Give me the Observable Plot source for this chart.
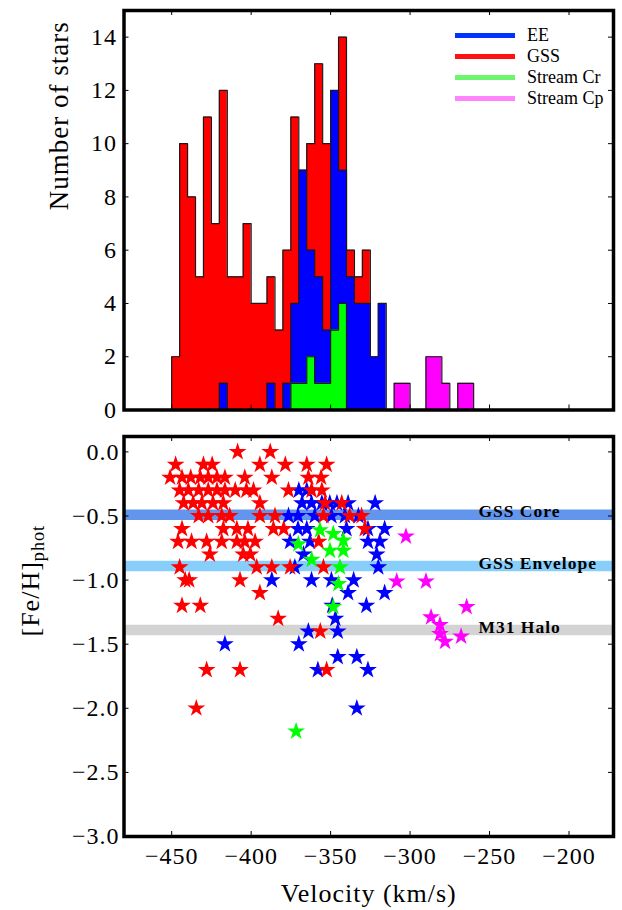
<!DOCTYPE html>
<html>
<head>
<meta charset="utf-8">
<script src="https://cdn.jsdelivr.net/npm/d3@7"></script>
<script src="https://cdn.jsdelivr.net/npm/@observablehq/plot@0.6"></script>
<style>
html, body { margin: 0; padding: 0; background: #fff; }
#chart { width: 622px; }
#chart svg { display: block; }
#chart svg text { letter-spacing: 1px; }
</style>
</head>
<body>
<div id="chart"></div>
<script>
// ---------- Histogram data (5 km/s bins) ----------
const binEdges = [-450,-445,-440,-435,-430,-425,-420,-415,-410,-405,-400,-395,-390,-385,-380,-375,-370,-365,-360,-355,-350,-345,-340,-335,-330,-325,-320,-315,-310,-305,-300,-295,-290,-285,-280,-275,-270,-265,-260];
const countsGSS      = [2,10,8,5,11,7,12,5,5,7,4,4,5,3,6,11,9,10,13,10,8,14,6,5,6,0,0,0,0,0,0,0,0,0,0,0,0,0];
const countsEE       = [0,0,0,0,0,0,1,0,0,0,0,0,1,0,1,4,9,6,5,3,12,9,5,4,4,2,4,0,0,0,0,0,0,0,0,0,0,0];
const countsStreamCr = [0,0,0,0,0,0,0,0,0,0,0,0,0,0,0,1,1,2,1,1,3,4,0,0,0,0,0,0,0,0,0,0,0,0,0,0,0,0];
const countsStreamCp = [0,0,0,0,0,0,0,0,0,0,0,0,0,0,0,0,0,0,0,0,0,0,0,0,0,0,0,0,1,1,0,0,2,2,1,0,1,1];

const histTicks = [0,2,4,6,8,10,12,14];
const velTicks = [-450,-400,-350,-300,-250,-200];
const fehTicks = [0,-0.5,-1,-1.5,-2,-2.5,-3];

// ---------- Scatter data ----------
const eeVel = [-370,-365,-368,-362,-355.5,-350.5,-346,-339,-322,-376.5,-370.5,-360,-349.5,-341,-332.5,-370.5,-365,-340,-326.5,-316,-375.5,-363,-326.5,-319,-367,-321,-372.5,-320,-387,-362,-349.5,-335.5,-339,-316,-349,-327.5,-347,-364,-345.5,-416.5,-370,-345.5,-333.5,-358,-326.5,-333.5];
const eeFeh = [-0.3,-0.3,-0.4,-0.4,-0.4,-0.4,-0.4,-0.4,-0.4,-0.5,-0.5,-0.5,-0.5,-0.5,-0.5,-0.6,-0.6,-0.6,-0.6,-0.6,-0.7,-0.7,-0.7,-0.7,-0.8,-0.8,-0.9,-0.9,-1.0,-1.0,-1.0,-1.0,-1.1,-1.1,-1.2,-1.2,-1.3,-1.4,-1.4,-1.5,-1.5,-1.6,-1.6,-1.7,-1.7,-2.0];

const gssVel = [-408.5,-388,
  -447.5,-430,-424.5,-394.5,-378.5,-365,-352.5,
  -451,-443.5,-438,-432,-427,-421.5,-416.5,-404,-387,-364,-356,
  -445,-439.5,-433,-427,-421.5,-416.5,-410,-403,-398.5,-376.5,-362,-355.5,
  -442.5,-436.5,-431,-424,-417.5,-394.5,-353.5,-343,
  -433,-427,-418.5,-413.5,-394.5,-385,-354.5,-338,-330.5,
  -443.5,-417.5,-409,-402,-386,-379.5,-328.5,
  -446,-437.5,-428,-418.5,-409,-404,-397.5,-357.5,
  -426,-405,-400.5,
  -445,-396.5,-387,-375.5,-354.5,
  -441.5,-439,-407,
  -394.5,
  -443.5,-432,
  -383,
  -356.5,
  -428,-407,-352.5,
  -434.5];
const gssFeh = [0,0,
  -0.1,-0.1,-0.1,-0.1,-0.1,-0.1,-0.1,
  -0.2,-0.2,-0.2,-0.2,-0.2,-0.2,-0.2,-0.2,-0.2,-0.2,-0.2,
  -0.3,-0.3,-0.3,-0.3,-0.3,-0.3,-0.3,-0.3,-0.3,-0.3,-0.3,-0.3,
  -0.4,-0.4,-0.4,-0.4,-0.4,-0.4,-0.4,-0.4,
  -0.5,-0.5,-0.5,-0.5,-0.5,-0.5,-0.5,-0.5,-0.5,
  -0.6,-0.6,-0.6,-0.6,-0.6,-0.6,-0.6,
  -0.7,-0.7,-0.7,-0.7,-0.7,-0.7,-0.7,-0.7,
  -0.8,-0.8,-0.8,
  -0.9,-0.9,-0.9,-0.9,-0.9,
  -1.0,-1.0,-1.0,
  -1.1,
  -1.2,-1.2,
  -1.3,
  -1.4,
  -1.7,-1.7,-1.7,
  -2.0];

const crVel = [-370.3,-361.9,-356.7,-348.3,-342,-350.4,-342,-344.1,-345.1,-348.3,-371.7];
const crFeh = [-0.72,-0.84,-0.61,-0.64,-0.69,-0.77,-0.77,-0.90,-1.03,-1.21,-2.18];

const cpVel = [-302.6,-308.4,-290,-264.4,-286.8,-281.2,-281.2,-278,-267.9];
const cpFeh = [-0.66,-1.01,-1.01,-1.21,-1.29,-1.35,-1.42,-1.48,-1.44];

// ---------- Reference bands ----------
const bandNames = ["GSS Core","GSS Envelope","M31 Halo"];
const bandFeh = [-0.49,-0.89,-1.39];
const bandColors = ["#6495ed","#87cefa","#d3d3d3"];
const bandLabelVel = -257;

// ---------- Legend ----------
const legendNames = ["EE","GSS","Stream Cr","Stream Cp"];
const legendColors = ["#0033ff","#ff1111","#6ef56e","#ff85ff"];

// ---------- Layout ----------
const W = 622;
const xDomain = [-480, -172];
const mLeft = 123.5, mRight = 9;
const innerW = W - mLeft - mRight;
const topH = 426, topMT = 10, topMB = 16.5;
const topInnerH = topH - topMT - topMB;
const botH = 484, botMT = 10, botMB = 74;
const botInnerH = botH - botMT - botMB;
const tickLen = 5;
const FONT = "'Liberation Serif', 'Times New Roman', serif";

// ---------- Top: overlaid step-filled histograms ----------
const histSeries = [
  {counts: countsGSS, color: "#ff0000"},
  {counts: countsEE, color: "#0000ff"},
  {counts: countsStreamCr, color: "#00ff00"},
  {counts: countsStreamCp, color: "#ff00ff"}
];
function stepPoints(counts) {
  const pts = [{x: binEdges[0], y: 0}];
  counts.forEach((c, i) => pts.push({x: binEdges[i], y: c}));
  pts.push({x: binEdges[counts.length], y: 0});
  return pts;
}
const histMarks = [];
histSeries.forEach(s => {
  const pts = stepPoints(s.counts);
  histMarks.push(Plot.areaY(pts, {x: "x", y: "y", curve: "step-after", fill: s.color}));
  histMarks.push(Plot.lineY(pts, {x: "x", y: "y", curve: "step-after", stroke: "#1a1a1a", strokeWidth: 1.2}));
});

const svgTop = Plot.plot({
  width: W, height: topH,
  marginLeft: mLeft, marginRight: mRight, marginTop: topMT, marginBottom: topMB,
  style: {fontFamily: FONT, fontSize: "24px", background: "white", color: "black"},
  x: {domain: xDomain, axis: null},
  y: {domain: [0, 15], axis: null},
  marks: [
    ...histMarks,
    Plot.ruleX(velTicks, {insetBottom: topInnerH - tickLen, stroke: "black"}),
    Plot.ruleX(velTicks, {insetTop: topInnerH - tickLen, stroke: "black"}),
    Plot.ruleY(histTicks, {insetRight: innerW - tickLen, stroke: "black"}),
    Plot.ruleY(histTicks, {insetLeft: innerW - tickLen, stroke: "black"}),
    Plot.axisY({ticks: histTicks, tickSize: 0, tickPadding: 7, label: null, fontSize: 24}),
    Plot.text(["Number of stars"], {frameAnchor: "left", rotate: -90, dx: -56.5, lineAnchor: "bottom", fontSize: 27}),
    Plot.frame({stroke: "black", strokeWidth: 3.5})
  ]
});

// legend inside the upper panel
const lg = d3.select(svgTop).append("g").attr("font-family", FONT).attr("text-anchor", "start");
legendNames.forEach((name, i) => {
  const y = 35.5 + i * 21;
  lg.append("line").attr("x1", 455).attr("x2", 515).attr("y1", y).attr("y2", y)
    .attr("stroke", legendColors[i]).attr("stroke-width", 5);
  lg.append("text").attr("x", 527).attr("y", y).attr("dy", "0.33em").attr("text-anchor", "start")
    .attr("font-size", 18).style("letter-spacing", "0px").attr("fill", "black").text(name);
});

// ---------- Bottom: metallicity vs velocity ----------
const starGroups = [
  {vel: eeVel, feh: eeFeh, color: "#0000ff"},
  {vel: gssVel, feh: gssFeh, color: "#ff0000"},
  {vel: crVel, feh: crFeh, color: "#00ff00"},
  {vel: cpVel, feh: cpFeh, color: "#ff00ff"}
];
const bandTable = bandNames.map((n, i) => ({name: n, feh: bandFeh[i], color: bandColors[i]}));

const svgBot = Plot.plot({
  width: W, height: botH,
  marginLeft: mLeft, marginRight: mRight, marginTop: botMT, marginBottom: botMB,
  style: {fontFamily: FONT, fontSize: "24px", background: "white", color: "black"},
  x: {domain: xDomain, axis: null},
  y: {domain: [-3.0, 0.12], axis: null},
  marks: [
    ...bandTable.map(b => Plot.ruleY([b], {y: "feh", stroke: b.color, strokeWidth: 10.5})),
    ...starGroups.map(g => Plot.dot(g.vel.map((v, i) => ({vel: v, feh: g.feh[i]})),
      {x: "vel", y: "feh", symbol: "star", r: 5.6, fill: g.color, stroke: "none"})),
    Plot.text(bandTable, {x: () => bandLabelVel, y: "feh", text: "name", textAnchor: "start",
      fontWeight: "bold", fontSize: 17.5, lineAnchor: "middle", dy: -3, fill: "black"}),
    Plot.ruleX(velTicks, {insetBottom: botInnerH - tickLen, stroke: "black"}),
    Plot.ruleX(velTicks, {insetTop: botInnerH - tickLen, stroke: "black"}),
    Plot.ruleY(fehTicks, {insetRight: innerW - tickLen, stroke: "black"}),
    Plot.ruleY(fehTicks, {insetLeft: innerW - tickLen, stroke: "black"}),
    Plot.axisY({ticks: fehTicks, tickFormat: d3.format(".1f"), tickSize: 0, tickPadding: 4.5, label: null, fontSize: 24}),
    Plot.axisX({ticks: velTicks, tickSize: 0, tickPadding: 10, label: null, fontSize: 24}),
    Plot.text(["Velocity (km/s)"], {frameAnchor: "bottom", dy: 65, lineAnchor: "bottom", fontSize: 26}),
    Plot.text(["[Fe/H]"], {frameAnchor: "left", rotate: -90, dx: -85, lineAnchor: "bottom", fontSize: 26}),
    Plot.frame({stroke: "black", strokeWidth: 3.5})
  ]
});

// subscript for the y-axis title
d3.select(svgBot).selectAll("text").filter(function() { return this.textContent === "[Fe/H]"; })
  .append("tspan").attr("dy", "0.3em").attr("font-size", "0.7em").text("phot");

document.getElementById("chart").append(svgTop, svgBot);
</script>
</body>
</html>
